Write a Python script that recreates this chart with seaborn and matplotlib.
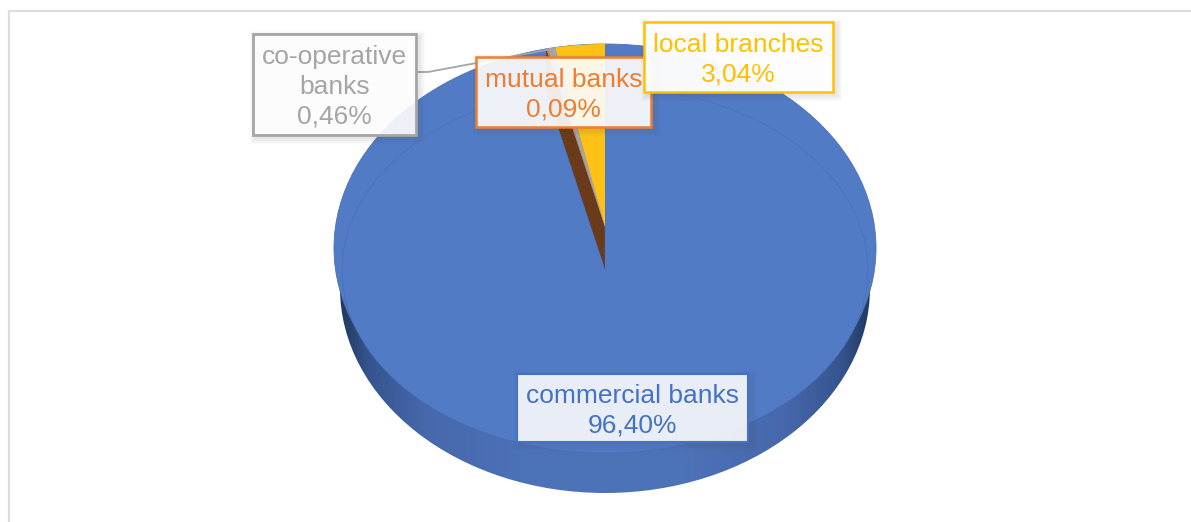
import numpy as np
import matplotlib
matplotlib.use("Agg")
import matplotlib.pyplot as plt
from matplotlib.colors import LinearSegmentedColormap
from matplotlib.patches import Ellipse, Polygon, Rectangle
import seaborn as sns

# Shares of the banking sector, clockwise from twelve o'clock
categories = ["commercial banks", "mutual banks", "co-operative banks", "local branches"]
shares = [96.40, 0.09, 0.46, 3.04]
label_lines = ["commercial banks", "mutual banks", "co-operative\nbanks", "local branches"]
slice_colors = ["#527BC6", "#ED7D31", "#A5A5A5", "#FFC115"]
text_colors = ["#4472C4", "#ED7D31", "#A5A5A5", "#FFC000"]

W, H = 1191, 522
sns.set_theme(style="white")
plt.rcParams["font.family"] = ["Liberation Sans", "DejaVu Sans"]
palette = sns.color_palette(slice_colors)

fig = plt.figure(figsize=(W / 100, H / 100), dpi=100, facecolor="white")

# Base layer in pixel coordinates: chart frame, side wall, rim of the disc
base = fig.add_axes([0, 0, 1, 1], zorder=1)
base.set_xlim(0, W)
base.set_ylim(H, 0)
base.axis("off")
base.plot([9, 9, W], [H, 11, 11], color="#DEDEDE", lw=1.6, solid_joinstyle="miter")

CX = 605
RIM_CY, RIM_A, RIM_B, DEPTH = 248, 271, 204, 40
WALL_A, WALL_B = 265, 205

wall_cmap = LinearSegmentedColormap.from_list(
    "wall", ["#22395F", "#35548E", "#4768AC", "#4C72B8", "#4C72B8", "#4768AC", "#35548E", "#22395F"]
)
pos = np.linspace(0, 1, 256)
ramp = np.interp(pos, [0, 0.05, 0.16, 0.35, 0.65, 0.84, 0.95, 1], np.linspace(0, 1, 8))
grad = base.imshow(
    ramp[None, :], cmap=wall_cmap, vmin=0, vmax=1, aspect="auto",
    extent=[CX - WALL_A, CX + WALL_A, RIM_CY + DEPTH + WALL_B, RIM_CY], zorder=1,
)
base.set_xlim(0, W)
base.set_ylim(H, 0)
wall_clip = Ellipse((CX, RIM_CY + DEPTH), 2 * WALL_A, 2 * WALL_B, transform=base.transData)
grad.set_clip_path(wall_clip)
base.add_patch(Ellipse((CX, RIM_CY), 2 * RIM_A, 2 * RIM_B, fc=palette[0],
                       ec="#4A70B6", lw=0.6, zorder=2))

# Pie layer: one data unit spans the slice radii, so the circle renders as an ellipse
PIE_CY, PIE_A, PIE_B = 227, 263, 183
SHIFT = 43 / PIE_B
pie_ax = fig.add_axes([0, 0, 1, 1], zorder=2)
pie_ax.patch.set_alpha(0)
wedges, _ = pie_ax.pie(shares, colors=palette, startangle=90, counterclock=False, radius=1,
                       wedgeprops={"linewidth": 0, "edgecolor": "none"})
pie_ax.set_aspect("auto")
pie_ax.set_xlim(-CX / PIE_A, (W - CX) / PIE_A)
pie_ax.set_ylim((PIE_CY - H) / PIE_B, PIE_CY / PIE_B)
pie_ax.axis("off")

# The commercial slice is pulled out downwards, exposing the wall of the small slices
wedges[0].set_center((0, -SHIFT))
wedges[0].set_edgecolor((0.27, 0.42, 0.70, 0.7))
wedges[0].set_linewidth(0.5)

gap = 2 * np.pi * sum(shares[1:]) / sum(shares)
gap_x, gap_y = -np.sin(gap), np.cos(gap)
pie_ax.add_patch(Polygon(
    [(0, -SHIFT), (gap_x, gap_y - SHIFT), (gap_x, gap_y), (0, 0)],
    fc="#6B3A18", ec="none", zorder=0.5,
))

# Label layer in pixel coordinates
top = fig.add_axes([0, 0, 1, 1], zorder=3)
top.set_xlim(0, W)
top.set_ylim(H, 0)
top.axis("off")
top.plot([417, 428, 552], [72, 72, 49], color="#A5A5A5", lw=1.3, zorder=1)

boxes = {
    "co-operative banks": (253, 34, 416, 135, 0.90, 2.0),
    "mutual banks": (476, 57, 651, 127, 0.90, 1.8),
    "local branches": (644, 22, 833, 92, 0.96, 1.8),
    "commercial banks": (517, 374, 748, 442, 0.88, 1.5),
}
for layer, name in enumerate(["commercial banks", "co-operative banks", "mutual banks", "local branches"]):
    i = categories.index(name)
    x0, y0, x1, y1, alpha, lw = boxes[name]
    z = 2 + layer
    for grow in range(1, 7):
        top.add_patch(Rectangle((x0 + 3 - grow, y0 + 3 - grow), x1 - x0 + 2 * grow, y1 - y0 + 2 * grow,
                                fc="#505050", ec="none", alpha=0.025, zorder=z))
    top.add_patch(Rectangle((x0, y0), x1 - x0, y1 - y0, fc=(1, 1, 1, alpha),
                            ec=text_colors[i], lw=lw, zorder=z + 0.1))
    top.text((x0 + x1) / 2, (y0 + y1) / 2 + 2.5,
             label_lines[i] + "\n" + f"{shares[i]:.2f}".replace(".", ",") + "%",
             ha="center", va="center", color=text_colors[i], fontsize=19,
             linespacing=1.3, zorder=z + 0.2)

fig.savefig("out.png", dpi=100, facecolor="white")
